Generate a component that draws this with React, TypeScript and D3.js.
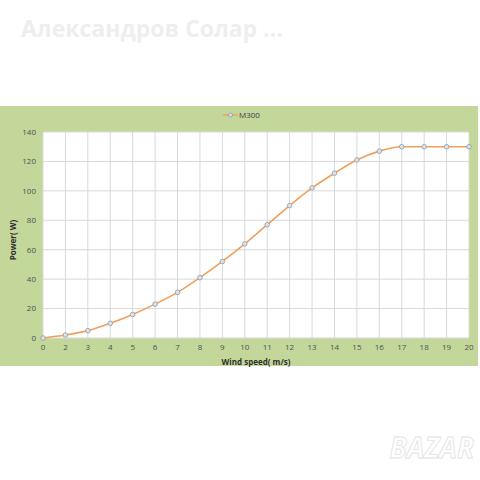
import React from 'react';
import * as d3 from 'd3';

// wind speed categories (Excel category axis: there is no 1)
const speeds = ['0', '2', '3', '4', '5', '6', '7', '8', '9', '10', '11', '12', '13', '14', '15', '16', '17', '18', '19', '20'];
// power output M300 (W)
const power = [0, 2, 5, 10, 16, 23, 31, 41, 52, 64, 77, 90, 102, 112, 121, 127, 130, 130, 130, 130];
const powerTicks = [0, 20, 40, 60, 80, 100, 120, 140];

const seriesName = 'M300';
const watermark = 'Александров Солар ...';

const W = 480;
const H = 480;
const plot = { left: 43, right: 469, top: 132, bottom: 338 };

const App: React.FC = () => {
  const x = d3.scalePoint<string>().domain(speeds).range([plot.left, plot.right]);
  const y = d3.scaleLinear().domain([0, 140]).range([plot.bottom, plot.top]);

  const points = speeds.map((s, i) => ({ s, p: power[i] }));

  const line = d3.line<{ s: string; p: number }>()
    .x(d => x(d.s) as number)
    .y(d => y(d.p))
    .curve(d3.curveMonotoneX);

  const font = "'Open Sans', 'Liberation Sans', sans-serif";

  return (
    <svg width={W} height={H} style={{ position: 'absolute', left: 0, top: 0 }} fontFamily={font}>
      <rect width={W} height={H} fill="#ffffff" />
      <text x={21} y={37} fontSize={23} fontWeight="bold" fill="#eeeef1">{watermark}</text>

      {/* green chart panel */}
      <rect x={0} y={106} width={478} height={260} fill="#c4d79b" />
      <rect x={plot.left} y={plot.top} width={plot.right - plot.left} height={plot.bottom - plot.top} fill="#ffffff" />

      {/* grid */}
      {powerTicks.map(t => (
        <line key={'h' + t} x1={plot.left} x2={plot.right} y1={y(t)} y2={y(t)} stroke="#d9d9d9" strokeWidth={1} />
      ))}
      {speeds.map(s => (
        <line key={'v' + s} x1={x(s)} x2={x(s)} y1={plot.top} y2={plot.bottom} stroke="#d9d9d9" strokeWidth={1} />
      ))}

      {/* y ticks */}
      {powerTicks.map(t => (
        <text key={'yt' + t} x={36} y={y(t)} dy="0.35em" textAnchor="end" fontSize={8} fill="#505050">{t}</text>
      ))}
      {/* x ticks */}
      {speeds.map(s => (
        <text key={'xt' + s} x={x(s)} y={350} textAnchor="middle" fontSize={8} fill="#505050">{s}</text>
      ))}

      <text x={(plot.left + plot.right) / 2} y={365} textAnchor="middle" fontSize={8} fontWeight="bold" fill="#303030">
        Wind speed( m/s)
      </text>
      <text transform={`translate(16,${(plot.top + plot.bottom) / 2 + 5}) rotate(-90)`} textAnchor="middle" fontSize={8} fontWeight="bold" fill="#303030">
        Power( W)
      </text>

      {/* legend */}
      <line x1={223} x2={238} y1={115} y2={115} stroke="#f0a05a" strokeWidth={1.5} />
      <circle cx={230.5} cy={115} r={2} fill="#d8dde3" stroke="#8a9bab" strokeWidth={0.7} />
      <text x={239} y={115} dy="0.35em" fontSize={8} fill="#404040">{seriesName}</text>

      {/* series */}
      <path d={line(points) ?? ''} fill="none" stroke="#f0a05a" strokeWidth={1.6} />
      {points.map(d => (
        <circle key={'m' + d.s} cx={x(d.s)} cy={y(d.p)} r={2.3} fill="#dde2e8" stroke="#8a9bab" strokeWidth={0.8} />
      ))}

      {/* faint site logo */}
      <text x={474} y={458} textAnchor="end" fontSize={28} fontWeight="bold" fontStyle="italic" fill="#ffffff" stroke="#e2e2e2" strokeWidth={0.8}>
        BAZAR
      </text>
    </svg>
  );
};

export default App;
